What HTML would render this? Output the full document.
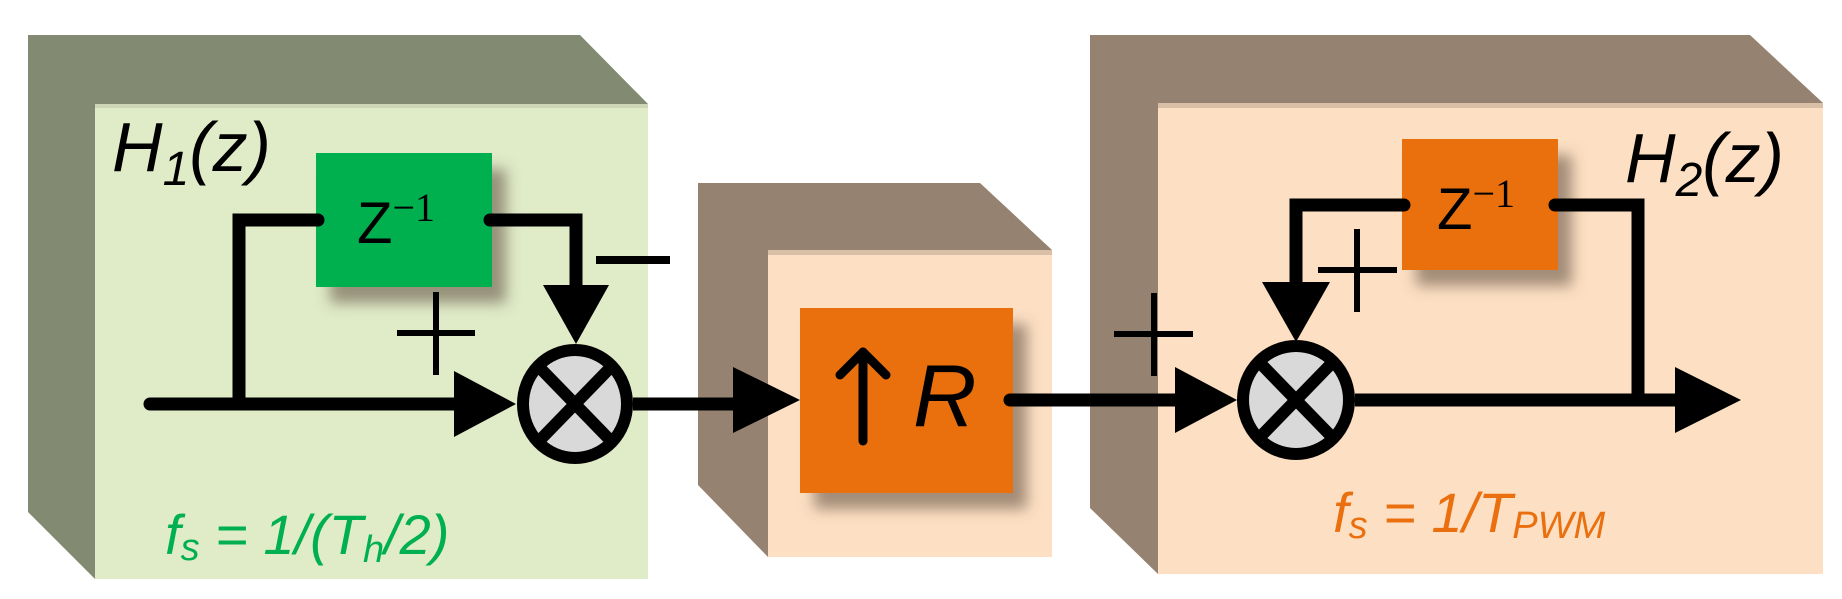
<!DOCTYPE html>
<html><head><meta charset="utf-8"><style>
html,body{margin:0;padding:0;background:#fff;}
svg{display:block;}
text{font-family:"Liberation Sans",sans-serif;}
</style></head><body>
<svg width="1842" height="599" viewBox="0 0 1842 599" xmlns="http://www.w3.org/2000/svg">
<defs>
<filter id="sh" x="-20%" y="-20%" width="150%" height="150%">
<feDropShadow dx="14" dy="16" stdDeviation="7" flood-color="#5a4a3a" flood-opacity="0.55"/>
</filter>
<marker id="a" viewBox="0 0 10 10" refX="10" refY="5" markerWidth="1" markerHeight="1"/>
</defs>

<!-- Left block -->
<polygon points="28,35 580,35 648,104 648,579 95,579 28,512" fill="#828a72"/>
<rect x="95" y="104" width="553" height="475" fill="#e0ebc8"/>
<rect x="95" y="104" width="553" height="4" fill="#cdd6b6"/>

<!-- Middle block -->
<polygon points="698,183 980,183 1052,250 1052,557 768,557 698,485" fill="#968270"/>
<rect x="768" y="250" width="284" height="307" fill="#fde0c3"/>
<rect x="768" y="250" width="284" height="5" fill="#d9bfa6"/>

<!-- Right block -->
<polygon points="1090,35 1750,35 1823,103 1823,574 1158,574 1090,508" fill="#968270"/>
<rect x="1158" y="103" width="665" height="471" fill="#fde0c3"/>
<rect x="1158" y="103" width="665" height="5" fill="#d9bfa6"/>

<!-- Z boxes and R box -->
<rect x="316" y="153" width="176" height="134" fill="#00b050" filter="url(#sh)"/>
<rect x="1402" y="139" width="156" height="131" fill="#ea700f" filter="url(#sh)"/>
<rect x="800" y="308" width="213" height="185" fill="#ea700f" filter="url(#sh)"/>

<!-- Left block wiring -->
<g stroke="#000" stroke-width="13" fill="none" stroke-linecap="round" stroke-linejoin="miter">
<polyline points="150,404 454,404"/>
<polyline points="239,404 239,220 316,220" stroke-linecap="butt"/>
<line x1="316" y1="220" x2="318" y2="220"/>
<polyline points="490,220 576,220 576,290" stroke-linecap="butt"/>
<line x1="490" y1="220" x2="491" y2="220"/>
<line x1="633" y1="404" x2="733" y2="404" stroke-linecap="butt"/>
<line x1="1010" y1="400" x2="1175" y2="400"/>
<line x1="1355" y1="400" x2="1675" y2="400" stroke-linecap="butt"/>
<polyline points="1404,205 1296,205 1296,285" stroke-linecap="butt"/>
<polyline points="1555,205 1638,205 1638,400" stroke-linecap="butt"/>
<line x1="1402" y1="205" x2="1404" y2="205"/>
<line x1="1555" y1="205" x2="1557" y2="205"/>
</g>
<!-- arrowheads -->
<g fill="#000">
<polygon points="454,371 516,404 454,437"/>
<polygon points="543,285 609,285 576,344"/>
<polygon points="733,367 800,400 733,433"/>
<polygon points="1175,367 1237,400 1175,433"/>
<polygon points="1262,282 1330,282 1296,342"/>
<polygon points="1675,367 1741,400 1675,433"/>
</g>
<!-- summing junctions -->
<g stroke="#000" stroke-width="12">
<ellipse cx="575" cy="404" rx="52" ry="54" fill="#d9d9d9"/>
<line x1="541" y1="369" x2="609" y2="439"/>
<line x1="609" y1="369" x2="541" y2="439"/>
<ellipse cx="1296" cy="400" rx="53" ry="54" fill="#d9d9d9"/>
<line x1="1262" y1="365" x2="1330" y2="435"/>
<line x1="1330" y1="365" x2="1262" y2="435"/>
</g>
<!-- signs -->
<g stroke="#000" stroke-width="6">
<line x1="596" y1="260" x2="670" y2="260" stroke-width="8"/>
<line x1="397" y1="333" x2="475" y2="333"/>
<line x1="436" y1="292" x2="436" y2="375"/>
<line x1="1114" y1="334" x2="1193" y2="334"/>
<line x1="1154" y1="293" x2="1154" y2="376"/>
<line x1="1318" y1="270" x2="1397" y2="270"/>
<line x1="1357" y1="229" x2="1357" y2="312"/>
</g>
<!-- up arrow in R box -->
<g stroke="#000" stroke-width="9" fill="none" stroke-linecap="round" stroke-linejoin="round">
<line x1="863" y1="352" x2="863" y2="441"/>
<polyline points="840,375 863,352 886,375"/>
</g>

<!-- labels -->
<text x="112" y="171" font-size="70" font-style="italic">H<tspan font-size="48" dy="14">1</tspan><tspan dy="-14">(z)</tspan></text>
<text x="1625" y="182" font-size="70" font-style="italic">H<tspan font-size="48" dy="14">2</tspan><tspan dy="-14">(z)</tspan></text>
<text x="357" y="243" font-size="58">Z<tspan font-family="Liberation Serif" font-size="40" dy="-22">−1</tspan></text>
<text x="1437" y="229" font-size="58">Z<tspan font-family="Liberation Serif" font-size="40" dy="-22">−1</tspan></text>
<text x="913" y="426" font-size="88" font-style="italic">R</text>
<text x="165" y="554" font-size="56" font-style="italic" fill="#00b050">f<tspan font-size="38" dy="6">s</tspan><tspan dy="-6"> = 1/(T</tspan><tspan font-size="38" dy="8">h</tspan><tspan dy="-8">/2)</tspan></text>
<text x="1333" y="532" font-size="56" font-style="italic" fill="#ea700f">f<tspan font-size="38" dy="6">s</tspan><tspan dy="-6"> = 1/T</tspan><tspan font-size="38" dy="6">PWM</tspan></text>
</svg>
</body></html>
